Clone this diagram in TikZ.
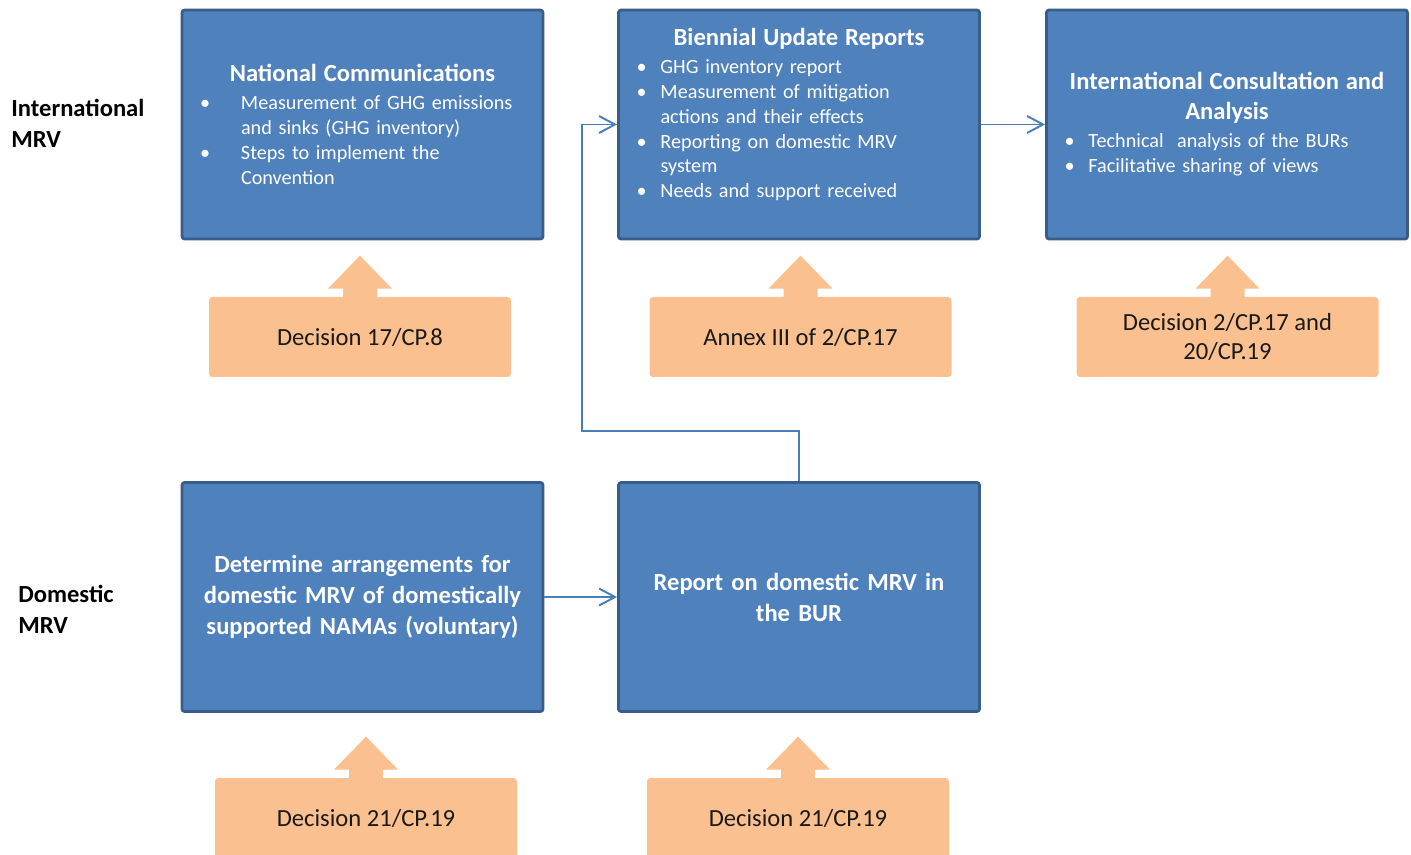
\documentclass[tikz,border=0pt]{standalone}
\usepackage{fontspec}
\setmainfont{Carlito}
\usepackage{xcolor}
\usepackage{tikz}
\usetikzlibrary{arrows.meta, calc}
\definecolor{mrvblue}{RGB}{79,129,189}
\definecolor{mrvedge}{RGB}{56,93,138}
\definecolor{mrvline}{RGB}{74,126,187}
\definecolor{mrvorange}{RGB}{250,192,144}
\definecolor{darkgray}{RGB}{26,26,26}
\newcommand{\boxtitle}[1]{{\centering\fontsize{14}{17}\selectfont\bfseries #1\par}\vspace{1.8pt}}
\newcommand{\itm}[2][0.48cm]{\par\hangindent=#1\hangafter=1\noindent\makebox[#1][l]{\textbullet}{\let\\\newline #2}\par}

\begin{document}
\begin{tikzpicture}[>={Straight Barb[length=3.2mm,width=3.4mm]},
  bluebox/.style={rectangle, rounded corners=1.5pt, minimum width=7.22cm, minimum height=4.58cm, inner sep=0pt, fill=mrvblue, draw=mrvedge, line width=1.6pt, text=white, text width=6.5cm, align=left, font=\fontsize{11.5}{14.2}\selectfont},
  bluebig/.style={bluebox, align=center, font=\fontsize{14}{17.6}\selectfont\bfseries},
  declbox/.style={rectangle, rounded corners=2pt, minimum width=6.04cm, minimum height=1.6cm, inner sep=0pt, fill=mrvorange, text=darkgray, align=center, font=\fontsize{14}{17}\selectfont},
  sidelabel/.style={anchor=west, inner sep=0pt, align=left, font=\fontsize{14}{17.6}\selectfont\bfseries},
  link/.style={->, draw=mrvline, line width=1.1pt}]

\useasboundingbox (0,0) rectangle (28.22,17.08);
\clip (0,0) rectangle (28.22,17.08);

% side labels
\node[sidelabel] (intl) at (0.22,14.61) {International\\MRV};
\node[sidelabel] (dom) at (0.36,4.89) {Domestic\\MRV};

% international row
\node[bluebox] (NC) at (7.25,14.59) {\boxtitle{National Communications}\itm[0.82cm]{Measurement of GHG emissions\\and sinks (GHG inventory)}\itm[0.82cm]{Steps to implement the\\Convention}};
\node[bluebox] (BUR) at (15.98,14.59) {\boxtitle{Biennial Update Reports}\itm{GHG inventory report}\itm{Measurement of mitigation\\actions and their effects}\itm{Reporting on domestic MRV\\system}\itm{Needs and support received}\par\vspace{0.4cm}};
\node[bluebox] (ICA) at (24.54,14.59) {\boxtitle{International Consultation and\\Analysis}\itm{Technical~ analysis of the BURs}\itm{Facilitative sharing of views}};

% domestic row
\node[bluebig] (Det) at (7.25,5.14) {Determine arrangements for\\domestic MRV of domestically\\supported NAMAs (voluntary)};
\node[bluebig] (Rep) at (15.98,5.14) {Report on domestic MRV in\\the BUR};

% decisions
\node[declbox] (d17) at (7.20,10.34) {Decision 17/CP.8};
\node[declbox] (annex) at (16.01,10.34) {Annex III of 2/CP.17};
\node[declbox] (d2) at (24.55,10.34) {Decision 2/CP.17 and\\20/CP.19};
\node[declbox] (d21a) at (7.32,0.72) {Decision 21/CP.19};
\node[declbox] (d21b) at (15.96,0.72) {Decision 21/CP.19};
\foreach \d in {d17,annex,d2,d21a,d21b}
  \fill[mrvorange] ($(\d.north)+(-0.34,-0.05)$) -- ++(0,0.21) -- ++(-0.3,0) -- ($(\d.north)+(0,0.82)$) -- ($(\d.north)+(0.64,0.16)$) -- ++(-0.3,0) -- ++(0,-0.21) -- cycle;

% connectors
\coordinate (turn) at (11.64,8.46);
\draw[link] (Det.east) -- (Rep.west);
\draw[link] (Rep.north) |- (turn) |- (BUR.west);
\draw[link] (BUR.east) -- (ICA.west);

\end{tikzpicture}
\end{document}
